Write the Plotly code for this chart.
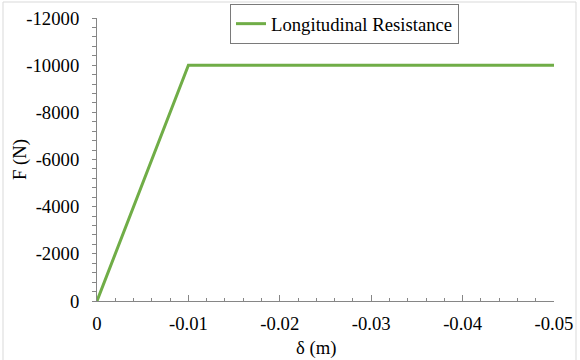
import plotly.graph_objects as go

# Force-displacement curve (elastic-perfectly-plastic)
delta_m = [0.0, -0.01, -0.05]
force_n = [0.0, -10000.0, -10000.0]

x_tick_vals = [0, -0.01, -0.02, -0.03, -0.04, -0.05]
x_tick_text = ["0", "-0.01", "-0.02", "-0.03", "-0.04", "-0.05"]
y_tick_vals = [0, -2000, -4000, -6000, -8000, -10000, -12000]
y_tick_text = ["0", "-2000", "-4000", "-6000", "-8000", "-10000", "-12000"]

W, H = 580, 360
ML, MR, MT, MB = 97, 26, 18, 59
pw, ph = W - ML - MR, H - MT - MB

FONT = "Liberation Serif, Times New Roman, serif"
FS = 18.7
AXIS_COLOR = "#868686"


def px_x(px):
    return (px - ML) / pw


def px_y(px):
    return (H - MB - px) / ph


fig = go.Figure()
fig.add_trace(go.Scatter(
    x=delta_m, y=force_n, mode="lines", name="Longitudinal Resistance",
    line=dict(color="#70AD47", width=3),
))

fig.update_layout(
    width=W, height=H,
    margin=dict(l=ML, r=MR, t=MT, b=MB, autoexpand=False),
    paper_bgcolor="white", plot_bgcolor="white",
    font=dict(family=FONT, size=FS, color="black"),
    showlegend=True,
    legend=dict(
        x=px_x(230), y=px_y(4), xanchor="left", yanchor="top",
        bordercolor="#7a7a7a", borderwidth=1, bgcolor="white",
        font=dict(family=FONT, size=FS, color="black"),
        itemwidth=30,
    ),
    xaxis=dict(
        range=[0, -0.05], tickvals=x_tick_vals, ticktext=x_tick_text,
        showgrid=False, zeroline=False, automargin=False,
        showline=True, linecolor=AXIS_COLOR, linewidth=1,
        ticks="inside", ticklen=6, tickcolor=AXIS_COLOR,
        minor=dict(dtick=0.002, ticks="inside", ticklen=3, tickcolor=AXIS_COLOR, showgrid=False),
        ticklabelstandoff=6,
        tickfont=dict(family=FONT, size=FS),
    ),
    yaxis=dict(
        range=[0, -12000], tickvals=y_tick_vals, ticktext=y_tick_text,
        showgrid=False, zeroline=False, automargin=False,
        showline=True, linecolor=AXIS_COLOR, linewidth=1,
        ticks="outside", ticklen=4, tickcolor=AXIS_COLOR,
        minor=dict(dtick=400, ticks="outside", ticklen=4, tickcolor=AXIS_COLOR, showgrid=False),
        ticklabelstandoff=9,
        tickfont=dict(family=FONT, size=FS),
    ),
)

# Axis titles
fig.add_annotation(
    text="δ (m)", xref="paper", yref="paper", x=px_x(316), y=px_y(348),
    xanchor="center", yanchor="middle", showarrow=False,
    font=dict(family=FONT, size=FS),
)
fig.add_annotation(
    text="F (N)", xref="paper", yref="paper", x=px_x(20), y=px_y(160),
    xanchor="center", yanchor="middle", showarrow=False, textangle=-90,
    font=dict(family=FONT, size=FS),
)

# Light outer frame around the chart area
fig.add_shape(
    type="rect", xref="paper", yref="paper",
    x0=px_x(3), x1=px_x(576), y0=px_y(362), y1=px_y(2),
    line=dict(color="#d9d9d9", width=1), fillcolor="rgba(0,0,0,0)", layer="below",
)

fig.write_html("out.html")
